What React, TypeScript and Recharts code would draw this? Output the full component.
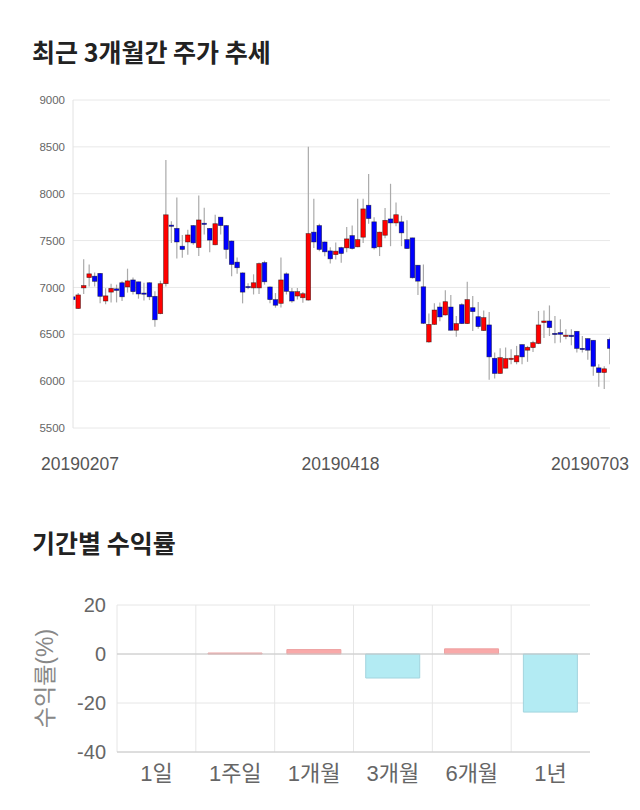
import { Bar, BarChart, CartesianGrid, Cell, ComposedChart, ReferenceLine, XAxis, YAxis } from "recharts";

const FONT = '"Liberation Sans", "Noto Sans CJK KR", sans-serif';
const TITLE_FONT = '"Noto Sans CJK KR", "Noto Sans", sans-serif';
const UP = "#ff0000";
const DOWN = "#0000ff";
const WICK = "#aaaaaa";
const GRID = "#e8e8e8";
const TEXT = "#666666";

// ── 3-month daily candles ───────────────────────────────────────────────────
const OPEN = [
  6900, 6775, 6995, 7105, 7120, 7150, 6855, 6950, 6985, 7050,
  7005, 7080, 7060, 6940, 7050, 6905, 6720, 7040, 7665, 7630,
  7440, 7485, 7660, 7425, 7685, 7630, 7455, 7750, 7660, 7495,
  7270, 7155, 7010, 6995, 6995, 7265, 7005, 6870, 6830, 7145,
  6955, 6908, 6890, 6865, 7590, 7660, 7485, 7390, 7350, 7425,
  7422, 7553, 7433, 7536, 7877, 7700, 7433, 7557, 7731, 7688,
  7700, 7510, 7529, 7237, 7007, 6418, 6606, 6791, 6706, 6791,
  6543, 6816, 6614, 6784, 6688, 6540, 6600, 6244, 6082, 6138,
  6244, 6206, 6390, 6330, 6358, 6402, 6625, 6642, 6510, 6518,
  6482, 6489, 6532, 6350, 6454, 6436, 6142, 6092, 6446,
];
const HIGH = [
  7080, 6940, 7300, 7245, 7160, 7155, 6990, 7040, 7030, 7065,
  7200, 7105, 7060, 7050, 7055, 6960, 7070, 8360, 7705, 7960,
  7560, 7615, 7665, 7980, 7850, 7635, 7775, 7750, 7665, 7500,
  7320, 7160, 7045, 7140, 7265, 7285, 7010, 6940, 7320, 7160,
  6995, 6995, 6950, 8500, 7945, 7680, 7490, 7430, 7480, 7435,
  7645, 7660, 7945, 7945, 8210, 7750, 7595, 7848, 8106, 7905,
  7765, 7716, 7530, 7240, 7245, 6723, 6830, 6840, 6970, 6920,
  6695, 6830, 7060, 6908, 6845, 6755, 6738, 6305, 6350, 6358,
  6340, 6376, 6390, 6376, 6430, 6749, 6755, 6808, 6695, 6660,
  6553, 6553, 6532, 6482, 6454, 6436, 6180, 6160, 6465,
];
const LOW = [
  6810, 6770, 6930, 7010, 7010, 6830, 6820, 6840, 6840, 6855,
  6945, 6925, 6880, 6860, 6865, 6580, 6715, 7010, 7475, 7310,
  7316, 7350, 7455, 7335, 7565, 7375, 7450, 7565, 7305, 7120,
  7146, 6830, 6980, 6925, 6930, 7030, 6830, 6784, 6785, 6925,
  6837, 6872, 6837, 6860, 7420, 7387, 7333, 7255, 7298, 7263,
  7376, 7404, 7430, 7475, 7680, 7404, 7335, 7525, 7440, 7653,
  7440, 7410, 7095, 6920, 6610, 6410, 6600, 6640, 6700, 6540,
  6475, 6610, 6610, 6535, 6560, 6535, 6014, 6028, 6080, 6138,
  6180, 6180, 6180, 6206, 6312, 6395, 6461, 6482, 6404, 6411,
  6446, 6383, 6305, 6305, 6227, 6057, 5940, 5915, 6180,
];
const CLOSE = [
  6870, 6920, 7020, 7145, 7065, 6905, 6910, 6990, 6968, 6900,
  7070, 6955, 6930, 6928, 6900, 6655, 7040, 7775, 7655, 7485,
  7405, 7560, 7475, 7720, 7680, 7505, 7680, 7660, 7405, 7245,
  7210, 6950, 7005, 7050, 7255, 7060, 6870, 6810, 7080, 6958,
  6855, 6955, 6933, 7575, 7485, 7405, 7380, 7305, 7387, 7362,
  7518, 7415, 7510, 7838, 7735, 7422, 7590, 7716, 7688, 7776,
  7582, 7415, 7103, 7067, 6617, 6606, 6759, 6685, 6848, 6543,
  6614, 6614, 6870, 6742, 6582, 6678, 6259, 6082, 6251, 6241,
  6244, 6272, 6259, 6361, 6411, 6600, 6642, 6571, 6506, 6500,
  6490, 6475, 6349, 6340, 6330, 6159, 6092, 6132, 6350,
];
const PRICE_TICKS = [5500, 6000, 6500, 7000, 7500, 8000, 8500, 9000];
const DATE_TICKS = [0, 49, 98];
const DATE_LABELS = ["20190207", "20190418", "20190703"];

// ── Period returns ───────────────────────────────────────────────────────────
const PERIODS = ["1일", "1주일", "1개월", "3개월", "6개월", "1년"];
const RETURNS = [0, 0.4, 1.8, -9.8, 2.1, -23.7];
const RETURN_TICKS = [-40, -20, 0, 20];

const candles = OPEN.map((open, i) => ({
  i,
  open,
  high: HIGH[i],
  low: LOW[i],
  close: CLOSE[i],
  range: [LOW[i], HIGH[i]],
}));

const returns = PERIODS.map((period, i) => ({ period, value: RETURNS[i] }));

// Range bar [low, high] -> map open/close into the bar's own pixel span.
function Candle(props: any) {
  const { x, y, width, height, payload } = props;
  if (!payload || height == null) return null;
  const { open, close, high, low } = payload;
  const span = high - low || 1;
  const toY = (v: number) => y + ((high - v) / span) * height;
  const cx = x + width / 2;
  const top = toY(Math.max(open, close));
  const bottom = toY(Math.min(open, close));
  const bw = 4.6;
  return (
    <g>
      <line x1={cx} x2={cx} y1={y} y2={y + height} stroke={WICK} strokeWidth={1.2} />
      <rect
        x={cx - bw / 2}
        y={top}
        width={bw}
        height={Math.max(bottom - top, 1.2)}
        fill={close >= open ? UP : DOWN}
        stroke="rgba(0,0,0,0.55)"
        strokeWidth={0.7}
      />
    </g>
  );
}

const DATE_SHIFT = [7, -1, -20];

function DateTick(props: any) {
  const { x, y, payload } = props;
  const k = DATE_TICKS.indexOf(payload.value);
  if (k < 0) return null;
  return (
    <text x={x + DATE_SHIFT[k]} y={y} dy="0.71em" textAnchor="middle" fill="#555" fontSize={17.5} fontFamily={FONT}>
      {DATE_LABELS[k]}
    </text>
  );
}

const titleStyle = {
  position: "absolute" as const,
  left: 32,
  margin: 0,
  fontFamily: TITLE_FONT,
  fontWeight: 700,
  fontSize: 25,
  lineHeight: "25px",
  color: "#222",
};

export default function App() {
  return (
    <div style={{ position: "absolute", left: 0, top: 0, width: 640, height: 810, background: "#fff", fontFamily: FONT }}>
      <div style={{ ...titleStyle, top: 39 }}>최근 3개월간 주가 추세</div>
      <div style={{ position: "absolute", left: 0, top: 80 }}>
        <ComposedChart width={640} height={400} data={candles} margin={{ top: 20, right: 30, bottom: 12, left: 10 }}>
          <CartesianGrid stroke={GRID} vertical={false} />
          <XAxis
            type="number"
            dataKey="i"
            domain={[0, 98]}
            allowDataOverflow
            ticks={DATE_TICKS}
            interval={0}
            tick={<DateTick />}
            tickLine={false}
            axisLine={false}
            tickMargin={24}
            height={40}
          />
          <YAxis
            domain={[5500, 9000]}
            ticks={PRICE_TICKS}
            width={63}
            tickLine={false}
            axisLine={{ stroke: "#e2e2e2" }}
            tick={{ fill: TEXT, fontSize: 11.5 }}
          />
          <Bar dataKey="range" shape={<Candle />} barSize={6} isAnimationActive={false} />
        </ComposedChart>
      </div>

      <div style={{ ...titleStyle, top: 530 }}>기간별 수익률</div>
      <div style={{ position: "absolute", left: 0, top: 580 }}>
        <BarChart width={640} height={230} data={returns} margin={{ top: 25, right: 50, bottom: 18, left: 20 }} barCategoryGap="15.5%">
          <CartesianGrid
            stroke="#e6e6e6"
            verticalCoordinatesGenerator={({ offset }: any) =>
              PERIODS.map((_, i) => offset.left + (i * offset.width) / PERIODS.length)
            }
          />
          <XAxis
            dataKey="period"
            axisLine={{ stroke: "#c8c8c8" }}
            tickLine={false}
            tickMargin={7}
            height={40}
            tick={{ fill: TEXT, fontSize: 22 }}
          />
          <YAxis
            domain={[-40, 20]}
            ticks={RETURN_TICKS}
            width={97}
            axisLine={false}
            tickLine={false}
            tickMargin={5}
            tick={{ fill: TEXT, fontSize: 20 }}
            label={{
              value: "수익률(%)",
              angle: -90,
              position: "insideLeft",
              offset: 25,
              fill: "#888",
              fontSize: 23,
              style: { textAnchor: "middle" },
            }}
          />
          <ReferenceLine y={0} stroke="#c8c8c8" />
          <Bar dataKey="value" isAnimationActive={false}>
            {returns.map((d) => (
              <Cell
                key={d.period}
                fill={d.value >= 0 ? "#f9a9a9" : "#b3ebf3"}
                stroke={d.value >= 0 ? "#eda0a0" : "#a2d4de"}
                strokeWidth={1}
              />
            ))}
          </Bar>
        </BarChart>
      </div>
    </div>
  );
}
